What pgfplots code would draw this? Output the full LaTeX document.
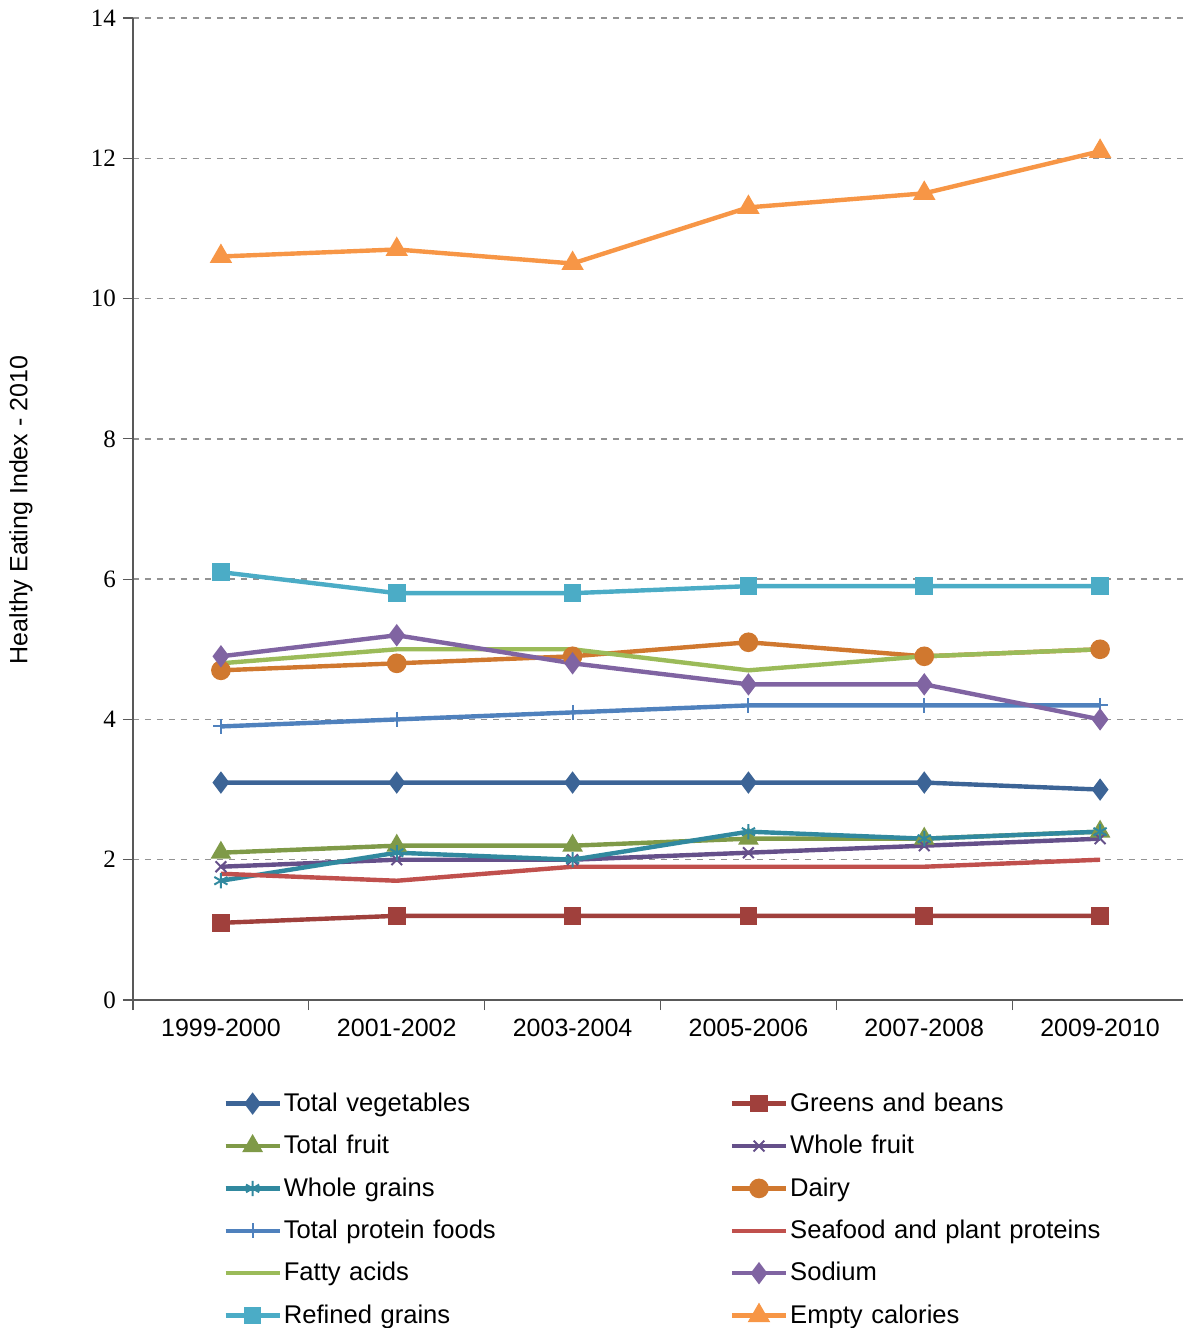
\documentclass[border=0pt]{standalone}
\usepackage{pgfplots}
\pgfplotsset{compat=1.18}
\usepackage{fontspec}
\setmainfont{Liberation Sans}
\newfontfamily\seriff{Liberation Serif}
\definecolor{c1}{HTML}{3C6496}
\definecolor{c2}{HTML}{A0403C}
\definecolor{c3}{HTML}{7F9A48}
\definecolor{c4}{HTML}{65508A}
\definecolor{c5}{HTML}{31899F}
\definecolor{c6}{HTML}{D0782F}
\definecolor{c7}{HTML}{4F81BD}
\definecolor{c8}{HTML}{C0504D}
\definecolor{c9}{HTML}{9BBB59}
\definecolor{c10}{HTML}{8064A2}
\definecolor{c11}{HTML}{4BACC6}
\definecolor{c12}{HTML}{F79646}
\begin{document}
\begin{tikzpicture}
\path[use as bounding box] (-66.5pt,-164pt) rectangle (525pt,500pt);
\begin{axis}[
  scale only axis, width=527.5pt, height=491pt,
  xmin=-0.5, xmax=5.5, ymin=0, ymax=14,
  axis x line*=bottom, axis y line*=left,
  xtick={0,...,5}, major x tick style={draw=none},
  xticklabels={1999-2000,2001-2002,2003-2004,2005-2006,2007-2008,2009-2010},
  minor xtick={-0.5,0.5,...,5.5}, minor tick length=5pt, major tick length=5pt,
  tick align=outside, x tick label style={font=\fontsize{12.5}{14}\selectfont, yshift=-1pt},
  ytick={0,2,...,14},
  y tick label style={font=\seriff\fontsize{12.5}{14}\selectfont},
  yticklabel={\pgfmathprintnumber[assume math mode=true]{\tick}},
  ymajorgrids, grid style={dashed, gray!85, line width=0.7pt},
  axis line style={gray!70!black, line width=0.6pt},
  tick style={gray!70!black, line width=0.6pt},
  ylabel={Healthy Eating Index - 2010},
  ylabel style={font=\fontsize{12.5}{14}\selectfont, at={(-56pt,245pt)}, anchor=center},
  every axis plot/.append style={line width=2.2pt, mark size=3.8pt, mark options={solid}},
  legend columns=2,
  legend style={at={(42pt,-39pt)}, anchor=north west, draw=none, fill=none,
    font=\fontsize{12.8}{15}\selectfont, row sep=0pt,
    nodes={text width=222pt, anchor=west, inner xsep=1pt, inner ysep=0pt, minimum height=21.2pt}},
  legend image code/.code={\draw[#1] (0pt,0pt) -- (27pt,0pt); \draw[#1, only marks] plot coordinates {(13.5pt,0pt)};},
]
\addplot[c1, mark=diamond*] coordinates {(0,3.1)(1,3.1)(2,3.1)(3,3.1)(4,3.1)(5,3.0)};
\addlegendentry{Total vegetables}
\addplot[c2, mark=square*, mark size=3.3pt] coordinates {(0,1.1)(1,1.2)(2,1.2)(3,1.2)(4,1.2)(5,1.2)};
\addlegendentry{Greens and beans}
\addplot[c3, mark=triangle*] coordinates {(0,2.1)(1,2.2)(2,2.2)(3,2.3)(4,2.3)(5,2.4)};
\addlegendentry{Total fruit}
\addplot[c4, mark=x, mark options={line width=1pt}] coordinates {(0,1.9)(1,2.0)(2,2.0)(3,2.1)(4,2.2)(5,2.3)};
\addlegendentry{Whole fruit}
\addplot[c5, mark=asterisk, mark options={line width=1pt}] coordinates {(0,1.7)(1,2.1)(2,2.0)(3,2.4)(4,2.3)(5,2.4)};
\addlegendentry{Whole grains}
\addplot[c6, mark=*] coordinates {(0,4.7)(1,4.8)(2,4.9)(3,5.1)(4,4.9)(5,5.0)};
\addlegendentry{Dairy}
\addplot[c7, mark=+, mark options={line width=1pt}] coordinates {(0,3.9)(1,4.0)(2,4.1)(3,4.2)(4,4.2)(5,4.2)};
\addlegendentry{Total protein foods}
\addplot[c8, mark=none] coordinates {(0,1.8)(1,1.7)(2,1.9)(3,1.9)(4,1.9)(5,2.0)};
\addlegendentry{Seafood and plant proteins}
\addplot[c9, mark=none] coordinates {(0,4.8)(1,5.0)(2,5.0)(3,4.7)(4,4.9)(5,5.0)};
\addlegendentry{Fatty acids}
\addplot[c10, mark=diamond*] coordinates {(0,4.9)(1,5.2)(2,4.8)(3,4.5)(4,4.5)(5,4.0)};
\addlegendentry{Sodium}
\addplot[c11, mark=square*, mark size=3.3pt] coordinates {(0,6.1)(1,5.8)(2,5.8)(3,5.9)(4,5.9)(5,5.9)};
\addlegendentry{Refined grains}
\addplot[c12, mark=triangle*, mark size=4.3pt] coordinates {(0,10.6)(1,10.7)(2,10.5)(3,11.3)(4,11.5)(5,12.1)};
\addlegendentry{Empty calories}
\end{axis}
\end{tikzpicture}
\end{document}
